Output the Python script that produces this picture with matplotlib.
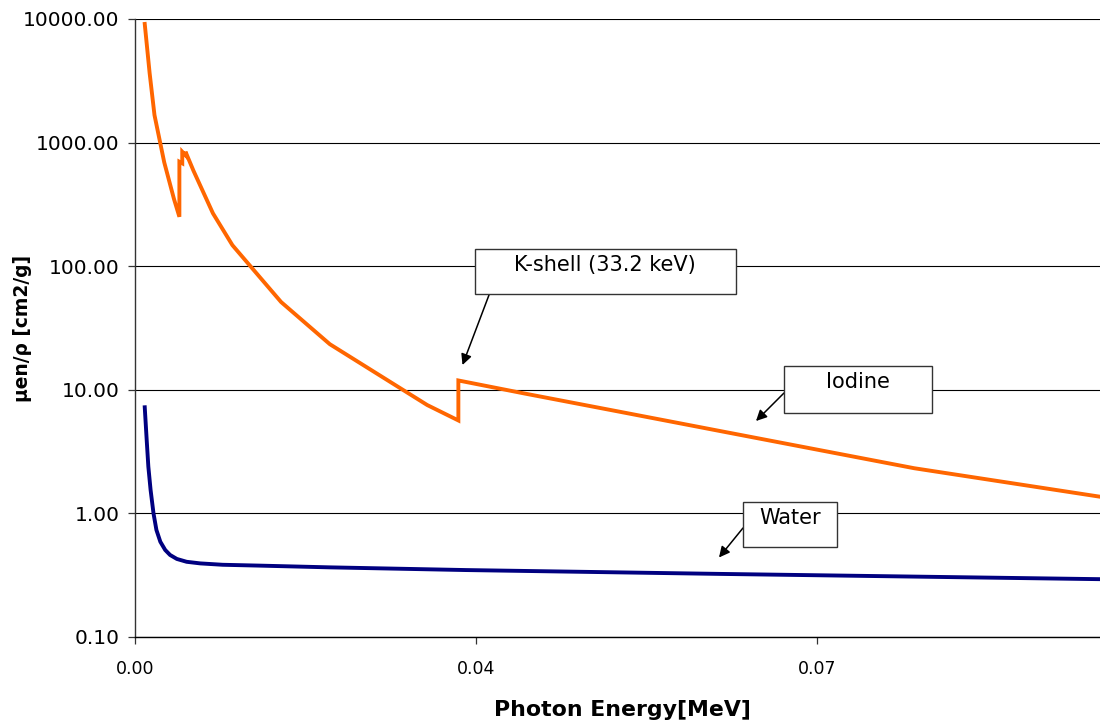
import matplotlib
matplotlib.use("Agg")
import matplotlib.pyplot as plt
from matplotlib.patches import Rectangle
from matplotlib.ticker import NullLocator

# Mass energy-absorption coefficients (cm2/g) versus photon energy (MeV)
iodine_energy = [0.001, 0.0015, 0.002, 0.003, 0.004, 0.004557, 0.004557,
                 0.004852, 0.004852, 0.005188, 0.005188, 0.006, 0.008, 0.01,
                 0.015, 0.02, 0.03, 0.0332, 0.0332, 0.04, 0.05, 0.06, 0.08, 0.1]
iodine_muen = [9120, 3660, 1670, 693, 350, 251, 700,
               680, 843, 790, 843, 593, 268, 148,
               51.3, 23.4, 7.53, 5.65, 11.9, 9.33, 6.59, 4.65, 2.32, 1.33]

water_energy = [0.001, 0.0012, 0.00137, 0.0016, 0.0019, 0.0022, 0.0026,
                0.0031, 0.0036, 0.0043, 0.0053, 0.0067, 0.009, 0.0128,
                0.02, 0.034, 0.06, 0.1]
water_muen = [7.22, 3.93, 2.39, 1.55, 1.00, 0.734, 0.590,
              0.506, 0.461, 0.428, 0.406, 0.394, 0.384, 0.378,
              0.366, 0.348, 0.324, 0.293]

x_ticks = [0.0, 0.035, 0.07]
x_tick_labels = ["0.00", "0.04", "0.07"]
y_ticks = [0.1, 1, 10, 100, 1000, 10000]
y_tick_labels = ["0.10", "1.00", "10.00", "100.00", "1000.00", "10000.00"]

W, H = 1100, 726
fig = plt.figure(figsize=(W / 100, H / 100), dpi=100)
plt.rcParams["font.family"] = ["DejaVu Sans"]

# axes box in pixels: left 135, right 1109, top 19, bottom 637
ax = fig.add_axes([135 / W, (H - 637) / H, 974 / W, 618 / H])

ax.plot(iodine_energy, iodine_muen, color="#FF6600", lw=2.8,
        solid_joinstyle="miter", zorder=3)
ax.plot(water_energy, water_muen, color="#000080", lw=2.8, zorder=3)

ax.set_yscale("log")
ax.set_xlim(0, 0.1)
ax.set_ylim(0.1, 10000)
ax.yaxis.set_minor_locator(NullLocator())
ax.set_yticks(y_ticks)
ax.set_yticklabels(y_tick_labels)
ax.set_xticks(x_ticks)
ax.set_xticklabels(x_tick_labels)

ax.grid(axis="y", color="black", lw=0.8)
ax.set_axisbelow(True)

for side in ("top", "right"):
    ax.spines[side].set_visible(False)
ax.spines["left"].set_color("#333333")
ax.spines["left"].set_linewidth(1.0)
ax.spines["bottom"].set_color("black")
ax.spines["bottom"].set_linewidth(1.0)

ax.tick_params(axis="y", direction="out", length=5, width=0.9,
               color="#333333", labelsize=14.5, pad=6)
ax.tick_params(axis="x", direction="out", length=5, width=0.9,
               color="#333333", labelsize=12.5, pad=11.5)

ax.set_xlabel("Photon Energy[MeV]", fontsize=15.8, fontweight="bold",
              va="baseline")
ax.xaxis.set_label_coords(0.5, (637 - 716) / 618)
ax.set_ylabel("μen/ρ [cm2/g]", fontsize=13.4, fontweight="bold", va="center")
ax.yaxis.set_label_coords((23 - 135) / 974, 0.5)


def callout(text, box, text_xy, arrow_from, arrow_to):
    x0, y0, x1, y1 = box
    fig.patches.append(Rectangle((x0 / W, 1 - y1 / H), (x1 - x0) / W,
                                 (y1 - y0) / H, transform=fig.transFigure,
                                 facecolor="white", edgecolor="#333333",
                                 lw=1.0, zorder=4))
    fig.text(text_xy[0] / W, 1 - text_xy[1] / H, text, fontsize=15,
             ha="center", va="baseline", zorder=5)
    ax.annotate("", xy=(arrow_to[0], H - arrow_to[1]),
                xytext=(arrow_from[0], H - arrow_from[1]),
                xycoords="figure pixels", textcoords="figure pixels",
                arrowprops=dict(arrowstyle="-|>", color="black", lw=1.1,
                                mutation_scale=16, shrinkA=0, shrinkB=0),
                annotation_clip=False, zorder=5)


callout("K-shell (33.2 keV)", (475, 249, 736, 294), (605, 271.5),
        (489, 295), (462.5, 365))
callout("Iodine", (784, 366, 932, 413), (858, 388),
        (784, 393), (756, 421))
callout("Water", (743, 502, 837, 547), (790, 524),
        (743, 528), (719, 557.5))

fig.savefig("out.png", dpi=100)
